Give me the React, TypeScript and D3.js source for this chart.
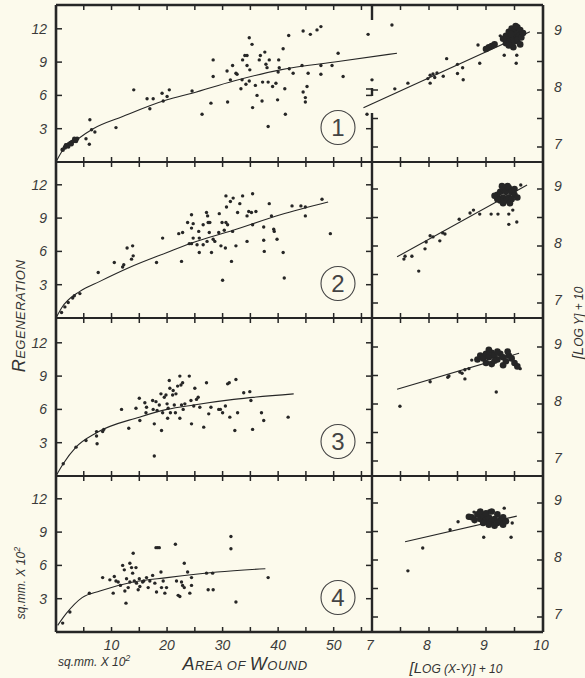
import React from "react";
import * as d3 from "d3";

// panel 1..4, left: area of wound (sq.mm x 10^2) vs regeneration
const regen1 = [
  [5.4, 2.1], [6.0, 1.6], [6.1, 3.8], [6.4, 2.9], [7.0, 2.7], [10.8, 3.1], [14.0, 6.5], [16.4, 5.7],
  [16.9, 4.8], [17.5, 5.7], [19.1, 6.2], [19.3, 5.5], [20.0, 5.9], [20.4, 6.5], [24.5, 6.4], [26.3, 4.3],
  [27.9, 5.3], [28.3, 9.2], [28.3, 7.7], [30.9, 5.4], [30.8, 8.2], [31.4, 7.4], [31.8, 8.7], [32.4, 8.0],
  [32.6, 7.9], [33.3, 6.6], [33.5, 7.4], [33.6, 9.2], [34.0, 9.6], [34.2, 7.0], [34.4, 9.6], [34.8, 11.2],
  [35.3, 10.6], [35.4, 4.9], [34.9, 8.3], [34.4, 8.7], [34.8, 7.3], [35.9, 6.9], [36.2, 6.0], [36.6, 9.2],
  [36.8, 9.6], [37.1, 5.5], [37.2, 7.2], [37.6, 9.9], [37.8, 8.8], [38.0, 8.5], [38.2, 3.2], [38.4, 9.2],
  [38.2, 7.2], [39.0, 6.8], [39.6, 7.1], [39.9, 5.6], [40.1, 9.2], [40.2, 8.5], [40.0, 8.1], [40.9, 10.2],
  [41.2, 6.6], [41.3, 4.3], [41.9, 11.4], [42.0, 8.4], [42.7, 8.0], [44.5, 11.8], [45.8, 11.5], [47.0, 11.9],
  [47.7, 12.2], [44.3, 8.7], [45.4, 8.0], [44.5, 6.3], [45.2, 6.8], [44.9, 5.8], [44.9, 5.4], [47.7, 8.7],
  [47.7, 7.9], [49.7, 8.7], [50.8, 9.8], [51.7, 7.7], [56.2, 11.5], [56.9, 7.4], [56.0, 4.3],
];
const cluster1 = [
  [1.2, 1.1], [1.6, 1.3], [2.0, 1.5], [2.3, 1.6], [2.6, 1.7], [2.9, 1.8], [3.2, 1.9], [3.5, 2.0],
  [3.8, 2.1], [2.8, 1.6], [3.3, 2.1], [3.6, 1.9], [2.2, 1.4], [1.8, 1.5],
];
const fit1 = [
  [0, 0], [1, 0.9], [4, 2.1], [6.7, 3.0], [12, 4.1], [20, 5.6], [24.5, 6.2], [32, 7.3], [40.4, 8.3],
  [50.8, 9.05], [61.4, 9.8],
];

const regen2 = [
  [1.0, 0.5], [1.6, 1.0], [2.2, 1.4], [3.0, 1.8], [3.3, 2.0], [4.3, 2.2],
  [7.6, 4.1], [10.5, 5.0], [12.0, 4.6], [12.2, 4.8], [12.8, 6.3], [13.8, 6.5], [13.6, 5.3], [13.9, 5.6],
  [18.1, 5.0], [19.2, 7.2], [22.1, 7.6], [22.8, 7.7], [22.6, 5.1], [23.7, 8.6], [24.4, 9.3], [24.7, 8.5],
  [24.4, 8.1], [24.7, 7.2], [24.4, 6.7], [24.0, 6.7], [25.7, 7.8], [25.8, 7.2], [25.8, 5.9], [25.4, 6.6],
  [26.5, 8.4], [27.1, 9.5], [27.3, 9.2], [27.4, 8.6], [27.7, 8.6], [26.5, 6.6], [27.2, 6.9], [27.6, 7.7],
  [28.0, 5.9], [28.3, 7.1], [28.6, 6.9], [29.3, 7.7], [29.4, 9.4], [29.9, 8.6], [29.7, 6.5], [30.0, 3.4],
  [30.3, 7.9], [30.5, 6.3], [30.6, 8.6], [30.7, 10.0], [30.6, 11.0], [30.9, 8.4], [31.4, 10.5], [31.6, 5.1],
  [31.9, 10.8], [31.8, 7.8], [32.4, 6.5], [32.7, 9.5], [33.1, 10.3], [33.6, 11.0], [34.4, 9.2], [34.4, 6.9],
  [34.7, 9.6], [35.4, 11.2], [35.4, 8.4], [35.2, 9.5], [36.0, 9.6], [37.4, 8.2], [37.4, 7.0], [37.5, 6.0],
  [38.4, 10.3], [38.8, 9.2], [39.2, 8.0], [39.3, 7.8], [39.8, 7.1], [40.9, 5.9], [41.1, 3.6], [42.5, 10.1],
  [44.1, 10.1], [44.9, 10.0], [44.9, 9.2], [47.9, 10.7], [49.4, 7.6],
];
const fit2 = [
  [0, 0], [1.0, 0.9], [4.3, 2.4], [7.9, 3.3], [13, 4.5], [20, 5.9], [24.7, 6.8], [31.9, 7.9],
  [40.4, 9.3], [49, 10.45],
];

const regen3 = [
  [1.3, 1.1], [3.6, 2.6], [5.4, 3.2], [7.3, 3.6], [7.4, 2.9], [7.3, 4.0], [8.4, 4.0], [8.6, 4.2],
  [11.8, 6.0], [13.1, 4.3], [14.4, 6.1], [15.0, 7.0], [15.1, 5.0], [16.0, 6.6], [16.2, 5.7], [16.3, 6.2],
  [17.4, 6.8], [17.5, 6.0], [17.7, 4.7], [17.7, 1.8], [18.0, 6.7], [18.2, 5.9], [18.6, 6.4], [18.9, 7.4],
  [19.0, 4.1], [19.2, 5.7], [19.5, 7.1], [19.8, 7.3], [20.0, 6.5], [20.1, 5.2], [20.2, 6.1], [20.4, 8.6],
  [20.5, 7.9], [20.6, 5.7], [21.0, 7.3], [21.1, 7.7], [21.3, 6.4], [21.5, 5.7], [21.6, 7.4], [21.9, 8.1],
  [22.3, 9.0], [22.5, 8.2], [22.3, 5.2], [22.6, 6.4], [22.8, 8.4], [22.9, 6.0], [23.2, 6.5], [24.0, 9.0],
  [24.3, 6.8], [24.4, 4.7], [24.8, 6.3], [25.0, 7.9], [25.3, 6.9], [25.6, 7.1], [25.9, 6.2], [26.6, 4.4],
  [27.1, 8.4], [27.5, 5.6], [27.9, 6.2], [29.3, 6.0], [29.6, 6.0], [30.0, 5.7], [30.5, 6.3], [30.9, 8.3],
  [31.2, 8.4], [31.3, 5.3], [32.2, 4.1], [32.4, 8.7], [32.7, 5.7], [33.8, 7.5], [34.9, 7.6], [35.1, 6.8],
  [35.4, 4.2], [37.0, 5.7], [37.4, 5.0], [41.8, 5.3],
];
const fit3 = [
  [0, 0], [1.3, 1.1], [3.6, 2.6], [7.3, 3.9], [15, 5.3], [20, 6.0], [24.8, 6.4], [32, 6.9], [42.8, 7.4],
];

const regen4 = [
  [1.2, 0.8], [2.5, 1.8], [6.0, 3.5], [8.4, 4.9], [9.7, 4.7], [10.3, 3.5], [10.5, 5.0], [10.8, 4.6],
  [11.2, 4.5], [11.6, 4.2], [12.0, 6.0], [12.3, 5.6], [12.4, 3.7], [12.6, 2.6], [12.7, 4.8], [13.0, 4.0],
  [13.3, 6.2], [13.3, 4.5], [13.6, 5.8], [13.8, 5.3], [13.9, 7.1], [14.1, 4.6], [14.4, 5.8], [14.5, 4.4],
  [14.8, 3.8], [15.0, 4.8], [15.1, 4.1], [15.6, 4.5], [15.8, 4.6], [16.3, 4.9], [16.6, 4.0], [16.9, 4.6],
  [17.4, 5.1], [17.8, 4.4], [18.0, 7.6], [18.3, 7.6], [18.6, 7.6], [18.1, 3.6], [18.9, 5.4], [19.0, 4.0],
  [19.3, 4.6], [19.6, 3.5], [19.9, 4.0], [21.5, 7.9], [21.7, 4.6], [22.0, 3.3], [22.3, 3.2], [22.6, 4.5],
  [22.8, 4.2], [23.1, 6.2], [23.1, 4.0], [23.7, 5.4], [24.1, 3.5], [24.4, 4.9], [24.4, 4.2], [27.1, 5.3],
  [27.4, 3.8], [28.2, 5.3], [28.3, 3.8], [31.5, 8.6], [31.5, 7.5], [32.4, 2.7], [38.2, 4.9],
];
const fit4 = [
  [0.3, 0.6], [1.9, 1.7], [4.7, 3.1], [7.9, 3.7], [13.9, 4.5], [20, 4.9], [29, 5.4], [37.7, 5.7],
];

// right: [log (X-Y)] + 10 vs [log Y] + 10
const log1 = [
  [9.07, 8.74], [9.25, 8.95], [8.86, 8.79], [8.89, 8.47], [9.32, 8.61], [9.53, 8.47], [9.54, 8.61],
  [8.31, 8.55], [8.5, 8.45], [8.59, 8.39], [8.5, 8.29], [8.6, 8.18], [8.25, 8.24], [8.07, 8.28],
  [7.98, 8.2], [8.02, 8.26], [8.1, 8.22], [8.14, 8.3], [8.02, 8.12], [7.63, 8.12], [7.4, 8.02],
  [7.35, 9.14], [9.12, 8.78],
];
const blob1 = [
  [9.35, 8.95], [9.4, 9.02], [9.45, 9.08], [9.5, 9.05], [9.55, 9.1], [9.6, 9.05], [9.42, 8.9],
  [9.48, 8.92], [9.52, 8.98], [9.58, 8.95], [9.38, 8.85], [9.45, 8.8], [9.5, 8.85], [9.55, 8.88],
  [9.62, 8.92], [9.35, 8.82], [9.3, 8.9], [9.48, 8.75], [9.6, 8.8], [9.65, 9.0], [9.44, 8.98],
  [9.52, 9.12], [9.4, 8.78], [9.05, 8.75], [9.1, 8.77], [9.15, 8.8], [9.0, 8.72],
];
const logFit1 = [[6.85, 7.69], [9.77, 9.02]];

const log2 = [
  [9.61, 9.07], [9.4, 8.38], [9.54, 8.42], [9.09, 8.56], [9.21, 8.56], [9.4, 8.56], [9.47, 8.63],
  [8.89, 8.56], [8.72, 8.58], [8.78, 8.63], [8.53, 8.47], [8.24, 8.23], [8.28, 8.21], [8.19, 8.09],
  [8.07, 8.16], [8.02, 8.18], [7.95, 8.07], [7.93, 7.95], [7.7, 7.82], [7.58, 7.82], [7.56, 7.77],
  [7.82, 7.56],
];
const blob2 = [
  [9.2, 8.9], [9.25, 8.95], [9.3, 9.0], [9.35, 8.95], [9.4, 9.02], [9.45, 8.95], [9.5, 8.9],
  [9.3, 8.85], [9.35, 8.8], [9.4, 8.85], [9.25, 8.8], [9.45, 8.82], [9.2, 8.82], [9.15, 8.88],
  [9.5, 9.0], [9.38, 9.05], [9.28, 9.05], [9.42, 8.75], [9.3, 8.75], [9.55, 8.85],
];
const logFit2 = [[7.44, 7.81], [9.72, 9.07]];

const log3 = [
  [8.75, 8.77], [8.63, 8.6], [8.54, 8.56], [8.33, 8.47], [8.02, 8.39], [8.35, 8.49], [8.58, 8.54],
  [8.63, 8.44], [9.18, 8.21], [7.49, 7.96], [8.7, 8.62], [9.6, 8.62],
];
const blob3 = [
  [8.9, 8.85], [8.95, 8.8], [9.0, 8.88], [9.05, 8.82], [9.1, 8.9], [9.15, 8.85], [9.2, 8.78],
  [9.25, 8.88], [9.3, 8.82], [9.35, 8.75], [9.4, 8.85], [9.45, 8.8], [9.0, 8.72], [9.1, 8.7],
  [9.2, 8.92], [9.3, 8.68], [9.5, 8.72], [9.55, 8.66], [9.05, 8.95], [9.15, 8.76], [9.38, 8.92],
  [8.85, 8.78],
];
const logFit3 = [[7.44, 8.26], [9.58, 8.89]];

const log4 = [
  [9.05, 8.86], [9.32, 8.91], [8.79, 8.84], [8.96, 8.4], [9.44, 8.4], [9.46, 8.65], [8.51, 8.67],
  [8.37, 8.53], [7.89, 8.21], [7.63, 7.81],
];
const blob4 = [
  [8.75, 8.75], [8.8, 8.7], [8.85, 8.8], [8.9, 8.72], [8.95, 8.78], [9.0, 8.7], [9.05, 8.75],
  [9.1, 8.68], [9.15, 8.72], [9.2, 8.65], [9.25, 8.7], [9.3, 8.62], [9.0, 8.82], [9.1, 8.85],
  [8.9, 8.85], [9.2, 8.8], [9.3, 8.75], [9.35, 8.68], [8.7, 8.76], [9.05, 8.62], [8.95, 8.65],
  [9.15, 8.6],
];
const logFit4 = [[7.58, 8.32], [9.54, 8.77]];

const panelLabels = ["1", "2", "3", "4"];
const leftXTicks = [5, 10, 15, 20, 25, 30, 35, 40, 45, 50, 55];
const leftXLabels = [10, 20, 30, 40, 50];
const rightXTicks = [7.5, 8, 8.5, 9, 9.5];
const rightXLabels = [7, 8, 9, 10];
const leftYTicks = [3, 6, 9, 12];
const rightYTicks = [7, 7.5, 8, 8.5, 9];
const rightYLabels = [7, 8, 9];

const panels = [
  { regen: regen1, cluster: cluster1, fit: fit1, log: log1, blob: blob1, logFit: logFit1 },
  { regen: regen2, cluster: [], fit: fit2, log: log2, blob: blob2, logFit: logFit2 },
  { regen: regen3, cluster: [], fit: fit3, log: log3, blob: blob3, logFit: logFit3 },
  { regen: regen4, cluster: [], fit: fit4, log: log4, blob: blob4, logFit: logFit4 },
];

const W = 585;
const H = 678;
const INK = "#262626";
const rowEdges = [5, 162, 318, 476, 632];
const xL = d3.scaleLinear().domain([0, 56.9]).range([56, 372]);
const xR = d3.scaleLinear().domain([7, 10]).range([372, 543]);
const font = "'Liberation Sans', Arial, sans-serif";

const App = () => {
  const rows = panels.map((p, i) => {
    const top = rowEdges[i];
    const bottom = rowEdges[i + 1];
    const yL = d3.scaleLinear().domain([0, (bottom - top) / 11.1]).range([bottom, top]);
    const lo = 9 - 129 / 57;
    const yR = d3.scaleLinear().domain([lo, lo + (bottom - top) / 57]).range([bottom, top]);
    return { ...p, top, bottom, yL, yR, i };
  });

  const fitLine = (xs, ys) =>
    d3.line().x((d) => xs(d[0])).y((d) => ys(d[1])).curve(d3.curveMonotoneX);

  const tickLabel = {
    fontFamily: font,
    fontStyle: "italic",
    fontSize: 14,
    fill: "#3a3a3a",
  };

  return (
    <svg width={W} height={H} style={{ position: "absolute", left: 0, top: 0 }}>
      <rect width={W} height={H} fill="#fcfaec" />

      {rows.map((r) => (
        <g key={"row" + r.i}>
          {/* left y ticks and labels */}
          {leftYTicks.map((t) => (
            <g key={"ly" + t}>
              <line x1={56} x2={62} y1={r.yL(t)} y2={r.yL(t)} stroke={INK} strokeWidth={1.5} />
              {(r.i > 0 || r.yL(t) > 85) && (
                <line x1={366} x2={372} y1={r.yL(t)} y2={r.yL(t)} stroke={INK} strokeWidth={1.5} />
              )}
              <text x={47} y={r.yL(t)} dy="0.35em" textAnchor="end" style={tickLabel}>
                {t}
              </text>
            </g>
          ))}
          {/* right y ticks and labels */}
          {rightYTicks.map((t) => (
            <g key={"ry" + t}>
              <line x1={537} x2={543} y1={r.yR(t)} y2={r.yR(t)} stroke={INK} strokeWidth={1.5} />
              {(r.i > 0 || r.yR(t) > 85) && (
                <line x1={372} x2={378} y1={r.yR(t)} y2={r.yR(t)} stroke={INK} strokeWidth={1.5} />
              )}
            </g>
          ))}
          {rightYLabels.map((t) => (
            <text key={"ryl" + t} x={554} y={r.yR(t) - 3} dy="0.35em" style={tickLabel}>
              {t}
            </text>
          ))}

          {/* left panel */}
          <path d={fitLine(xL, r.yL)(r.fit)} fill="none" stroke={INK} strokeWidth={1.1} />
          {r.regen.map((d, k) => (
            <circle key={"p" + k} cx={xL(d[0])} cy={r.yL(d[1])} r={1.7} fill={INK} />
          ))}
          {r.cluster.map((d, k) => (
            <circle key={"c" + k} cx={xL(d[0])} cy={r.yL(d[1])} r={2.3} fill={INK} />
          ))}

          {/* right panel */}
          <path d={fitLine(xR, r.yR)(r.logFit)} fill="none" stroke={INK} strokeWidth={1.1} />
          {r.log.map((d, k) => (
            <circle key={"l" + k} cx={xR(d[0])} cy={r.yR(d[1])} r={1.7} fill={INK} />
          ))}
          {r.blob.map((d, k) => (
            <circle key={"b" + k} cx={xR(d[0])} cy={r.yR(d[1])} r={3.3} fill={INK} />
          ))}

          {/* circled panel number */}
          <circle cx={338} cy={r.bottom - 34.5} r={17} fill="none" stroke="#444" strokeWidth={1.1} />
          <text
            x={338}
            y={r.bottom - 34.5}
            dy="0.36em"
            textAnchor="middle"
            fontFamily={font}
            fontSize={24}
            fontWeight={300}
            fill="#444"
          >
            {panelLabels[r.i]}
          </text>
        </g>
      ))}

      {/* horizontal axis lines with ticks */}
      {rowEdges.map((y, j) => {
        const up = j === 0 ? 0 : 5;
        const down = j === rowEdges.length - 1 ? 0 : 5;
        return (
          <g key={"h" + j}>
            <line x1={56} x2={543} y1={y} y2={y} stroke={INK} strokeWidth={j === 0 || j === 4 ? 2.6 : 2.2} />
            {leftXTicks.map((t) => (
              <line key={"lx" + t} x1={xL(t)} x2={xL(t)} y1={y - up} y2={y + down} stroke={INK} strokeWidth={1.5} />
            ))}
            {rightXTicks.map((t) => (
              <line key={"rx" + t} x1={xR(t)} x2={xR(t)} y1={y - up} y2={y + down} stroke={INK} strokeWidth={1.5} />
            ))}
          </g>
        );
      })}

      {/* vertical frame lines */}
      <line x1={56} x2={56} y1={5} y2={632} stroke={INK} strokeWidth={2.6} />
      <line x1={543} x2={543} y1={5} y2={632} stroke={INK} strokeWidth={2.6} />
      <line x1={372} x2={372} y1={5} y2={20} stroke={INK} strokeWidth={2.4} />
      <line x1={372} x2={372} y1={88} y2={96} stroke={INK} strokeWidth={2.4} />
      <line x1={366} x2={372} y1={89} y2={89} stroke={INK} strokeWidth={1.5} />
      <line x1={372} x2={372} y1={113} y2={632} stroke={INK} strokeWidth={2.4} />

      {/* bottom tick labels */}
      {leftXLabels.map((t) => (
        <text key={"lxl" + t} x={xL(t)} y={650} textAnchor="middle" style={tickLabel}>
          {t}
        </text>
      ))}
      {rightXLabels.map((t) => (
        <text key={"rxl" + t} x={xR(t) - 2} y={650} textAnchor="middle" style={tickLabel}>
          {t}
        </text>
      ))}

      {/* axis titles */}
      <text x={58} y={666} fontFamily={font} fontStyle="italic" fontSize={12} fill="#333">
        sq.mm. X 10<tspan dy={-5} fontSize={9}>2</tspan>
      </text>
      <text
        transform="translate(25,583) rotate(-90)"
        textAnchor="middle"
        fontFamily={font}
        fontStyle="italic"
        fontSize={12}
        fill="#333"
      >
        sq.mm. X 10<tspan dy={-5} fontSize={9}>2</tspan>
      </text>
      <text x={245} y={670} textAnchor="middle" fontFamily={font} fontStyle="italic" fill="#333" letterSpacing={0.5}>
        <tspan fontSize={18}>A</tspan>
        <tspan fontSize={13}>REA OF </tspan>
        <tspan fontSize={18}>W</tspan>
        <tspan fontSize={13}>OUND</tspan>
      </text>
      <text
        transform="translate(25,316) rotate(-90)"
        textAnchor="middle"
        fontFamily={font}
        fontStyle="italic"
        fill="#333"
        letterSpacing={0.5}
      >
        <tspan fontSize={18}>R</tspan>
        <tspan fontSize={13}>EGENERATION</tspan>
      </text>
      <text x={456} y={673} textAnchor="middle" fontFamily={font} fontStyle="italic" fill="#333">
        <tspan fontSize={15}>[L</tspan>
        <tspan fontSize={12}>OG (X-Y)] + 10</tspan>
      </text>
      <text
        transform="translate(583,323) rotate(-90)"
        textAnchor="middle"
        fontFamily={font}
        fontStyle="italic"
        fill="#333"
      >
        <tspan fontSize={15}>[L</tspan>
        <tspan fontSize={12}>OG Y] + 10</tspan>
      </text>
    </svg>
  );
};

export default App;
